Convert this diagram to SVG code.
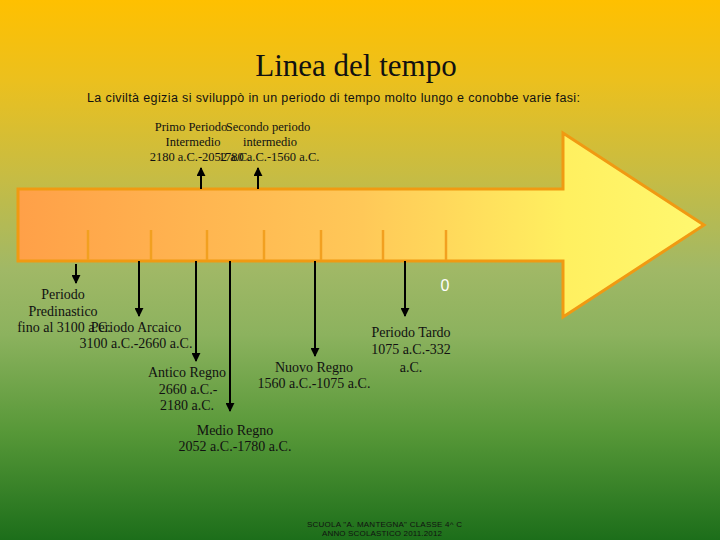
<svg xmlns="http://www.w3.org/2000/svg" width="720" height="540" viewBox="0 0 720 540">
<defs>
<linearGradient id="bg" x1="0" y1="0" x2="0" y2="1">
<stop offset="0" stop-color="#ffc000"/>
<stop offset="0.15" stop-color="#ebc01e"/>
<stop offset="0.33" stop-color="#c6bc44"/>
<stop offset="0.5" stop-color="#a0b866"/>
<stop offset="0.62" stop-color="#8cb25e"/>
<stop offset="0.8" stop-color="#579838"/>
<stop offset="1" stop-color="#1c6e1a"/>
</linearGradient>
<linearGradient id="arr" x1="0" y1="0" x2="1" y2="0">
<stop offset="0" stop-color="#ffa048"/>
<stop offset="0.5" stop-color="#ffc858"/>
<stop offset="0.8" stop-color="#fff060"/>
<stop offset="1" stop-color="#fff870"/>
</linearGradient>
<marker id="ah" viewBox="0 0 10 10" refX="9" refY="5" markerWidth="4.5" markerHeight="4.5" orient="auto" markerUnits="strokeWidth">
<path d="M0,0 L10,5 L0,10 z" fill="#000"/>
</marker>
<style>
.t{font-family:"Liberation Serif","Times New Roman",serif;fill:#111;text-anchor:middle}
.s{font-size:14px}
.sm{font-size:12.5px}
.c{stroke:#000;stroke-width:2;fill:none;marker-end:url(#ah)}
.tick{stroke:#f2a020;stroke-width:2.5}
</style>
</defs>
<rect width="720" height="540" fill="url(#bg)"/>
<text x="356" y="76" style="font-family:'Liberation Serif','Times New Roman',serif;font-size:31px;fill:#111;text-anchor:middle">Linea del tempo</text>
<text x="87" y="102" textLength="493" lengthAdjust="spacing" style="font-family:'Liberation Sans',Arial,sans-serif;font-size:12.5px;fill:#111">La civiltà egizia si sviluppò in un periodo di tempo molto lungo e conobbe varie fasi:</text>
<g id="timeline">
<path d="M18,189 L563,189 L563,133 L704,225 L563,317 L563,261 L18,261 Z" fill="url(#arr)" stroke="#f09a12" stroke-width="3" stroke-linejoin="miter"/>
<line class="tick" x1="88" y1="230" x2="88" y2="260"/>
<line class="tick" x1="151" y1="230" x2="151" y2="260"/>
<line class="tick" x1="207" y1="230" x2="207" y2="260"/>
<line class="tick" x1="264" y1="230" x2="264" y2="260"/>
<line class="tick" x1="321" y1="230" x2="321" y2="260" stroke="#ee9418"/>
<line class="tick" x1="383" y1="230" x2="383" y2="260" stroke="#ea8c14"/>
<line class="tick" x1="446" y1="230" x2="446" y2="260" stroke="#ea8810"/>
</g>
<g id="connectors">
<line class="c" x1="201" y1="189" x2="201" y2="168"/>
<line class="c" x1="258" y1="189" x2="258" y2="168"/>
<line class="c" x1="76" y1="264" x2="76" y2="283"/>
<line class="c" x1="139" y1="261" x2="139" y2="316"/>
<line class="c" x1="196" y1="261" x2="196" y2="361"/>
<line class="c" x1="230" y1="261" x2="230" y2="411"/>
<line class="c" x1="315" y1="261" x2="315" y2="356"/>
<line class="c" x1="405" y1="261" x2="405" y2="316"/>
</g>
<g id="primo-intermedio">
<text class="t sm" x="191" y="131">Primo Periodo</text>
<text class="t sm" x="193" y="146">Intermedio</text>
<text class="t sm" x="200" y="161">2180 a.C.-2052 a.C.</text>
</g>
<g id="secondo-intermedio">
<text class="t sm" x="268" y="131">Secondo periodo</text>
<text class="t sm" x="270" y="146">intermedio</text>
<text class="t sm" x="269" y="161">1780 a.C.-1560 a.C.</text>
</g>
<g id="predinastico">
<text class="t s" x="63" y="299">Periodo</text>
<text class="t s" x="63" y="316">Predinastico</text>
<text class="t s" x="64" y="332">fino al 3100 a.C.</text>
</g>
<g id="arcaico">
<text class="t s" x="136" y="332">Periodo Arcaico</text>
<text class="t s" x="136" y="348">3100 a.C.-2660 a.C.</text>
</g>
<g id="antico">
<text class="t s" x="187" y="377">Antico Regno</text>
<text class="t s" x="188" y="394">2660 a.C.-</text>
<text class="t s" x="187" y="410">2180 a.C.</text>
</g>
<g id="medio">
<text class="t s" x="235" y="435">Medio Regno</text>
<text class="t s" x="235" y="451">2052 a.C.-1780 a.C.</text>
</g>
<g id="nuovo">
<text class="t s" x="314" y="372">Nuovo Regno</text>
<text class="t s" x="314" y="388">1560 a.C.-1075 a.C.</text>
</g>
<g id="tardo">
<text class="t s" x="411" y="337">Periodo Tardo</text>
<text class="t s" x="411" y="354">1075 a.C.-332</text>
<text class="t s" x="411" y="372">a.C.</text>
</g>
<g id="zero">
<text x="445" y="291" style="font-family:'Liberation Sans',Arial,sans-serif;font-size:16px;fill:#fff;text-anchor:middle">0</text>
</g>
<g id="footer" style="font-family:'Liberation Sans',Arial,sans-serif;font-size:8px;fill:#111">
<text x="307" y="527" textLength="155" lengthAdjust="spacing">SCUOLA "A. MANTEGNA" CLASSE 4^ C</text>
<text x="322" y="536" textLength="120" lengthAdjust="spacing">ANNO SCOLASTICO 2011.2012</text>
</g>
</svg>
